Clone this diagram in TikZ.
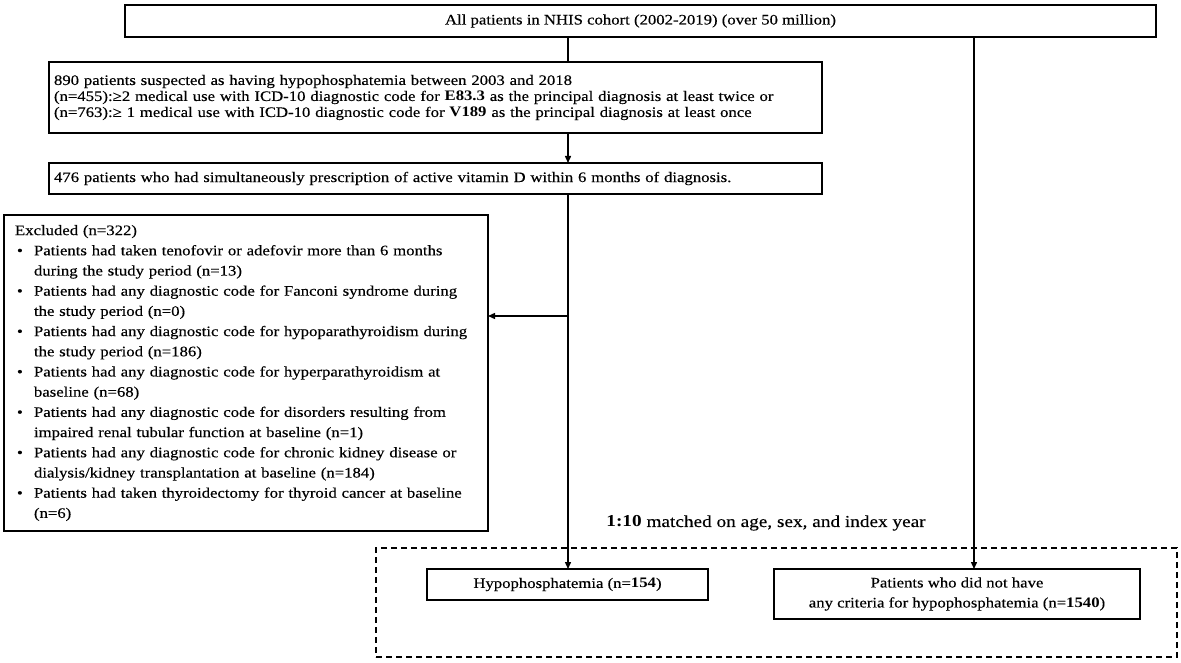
\documentclass[tikz,border=0pt]{standalone}
\usepackage{fontspec}
\setmainfont{Liberation Serif}[FakeStretch=1.153, UprightFeatures={FakeBold=0.3}]
\usetikzlibrary{arrows.meta}
\begin{document}
\begin{tikzpicture}[x=1pt,y=-1pt,
  box/.style={draw, line width=1.4pt, inner sep=0pt, outer sep=0pt},
  conn/.style={line width=1.4pt},
  arr/.style={conn, -{Triangle[length=7pt,width=6pt]}},
  dbox/.style={draw, line width=1.3pt, dash pattern=on 6pt off 4pt},
  small/.style={font=\fontsize{14.5}{16}\selectfont},
  exfont/.style={font=\fontsize{14.5}{20.2}\selectfont},
]
\useasboundingbox (0,0) rectangle (1181,663);

% dashed group
\node[dbox, minimum width=801pt, minimum height=109pt, inner sep=0pt] (grp) at (776.5,602.5) {};

\node[box, small, minimum width=1031pt, minimum height=32pt] (top) at (640.5,21)
  {All patients in NHIS cohort (2002-2019) (over 50 million)};

\node[box, small, minimum width=773pt, minimum height=71pt, text width=763pt, inner xsep=5pt, align=left] (susp) at (435.5,97.5)
  {890 patients suspected as having hypophosphatemia between 2003 and 2018\\
   (n=455):≥2 medical use with ICD-10 diagnostic code for \textbf{E83.3} as the principal diagnosis at least twice or\\
   (n=763):≥ 1 medical use with ICD-10 diagnostic code for \textbf{V189} as the principal diagnosis at least once};

\node[box, small, minimum width=773pt, minimum height=31pt, text width=763pt, inner xsep=5pt, align=left] (vitd) at (435.5,178.5)
  {476 patients who had simultaneously prescription of active vitamin D within 6 months of diagnosis.};

\node[box, exfont, minimum width=484pt, minimum height=316pt, text width=462pt, inner xsep=11pt, align=left] (excl) at (246,373)
  {Excluded (n=322)\\
   \makebox[19pt][l]{\hspace{2pt}\textbullet}Patients had taken tenofovir or adefovir more than 6 months\\
   \hspace*{19pt}during the study period (n=13)\\
   \makebox[19pt][l]{\hspace{2pt}\textbullet}Patients had any diagnostic code for Fanconi syndrome during\\
   \hspace*{19pt}the study period (n=0)\\
   \makebox[19pt][l]{\hspace{2pt}\textbullet}Patients had any diagnostic code for hypoparathyroidism during\\
   \hspace*{19pt}the study period (n=186)\\
   \makebox[19pt][l]{\hspace{2pt}\textbullet}Patients had any diagnostic code for hyperparathyroidism at\\
   \hspace*{19pt}baseline (n=68)\\
   \makebox[19pt][l]{\hspace{2pt}\textbullet}Patients had any diagnostic code for disorders resulting from\\
   \hspace*{19pt}impaired renal tubular function at baseline (n=1)\\
   \makebox[19pt][l]{\hspace{2pt}\textbullet}Patients had any diagnostic code for chronic kidney disease or\\
   \hspace*{19pt}dialysis/kidney transplantation at baseline (n=184)\\
   \makebox[19pt][l]{\hspace{2pt}\textbullet}Patients had taken thyroidectomy for thyroid cancer at baseline\\
   \hspace*{19pt}(n=6)};

\node[box, small, minimum width=281pt, minimum height=31pt] (hyp) at (567.5,584.5)
  {Hypophosphatemia (n=\textbf{154})};

\node[box, font=\fontsize{14.5}{20}\selectfont, minimum width=366pt, minimum height=50pt, align=center] (ctrl) at (957,594)
  {Patients who did not have\\any criteria for hypophosphatemia (n=\textbf{1540})};

\node[font=\fontsize{16.7}{18}\selectfont, inner sep=0pt] (match) at (766,523)
  {\textbf{1:10} matched on age, sex, and index year};

\coordinate (lx) at (568,0);
\coordinate (rx) at (974,0);
\coordinate (branch) at (568,316);

\draw[conn] (top.south -| lx) -- (susp.north -| lx);
\draw[arr] (susp.south -| lx) -- (vitd.north -| lx);
\draw[arr] (vitd.south -| lx) -- (hyp.north -| lx);
\draw[arr] (branch) -- (branch -| excl.east);
\draw[arr] (top.south -| rx) -- (ctrl.north -| rx);
\end{tikzpicture}
\end{document}
